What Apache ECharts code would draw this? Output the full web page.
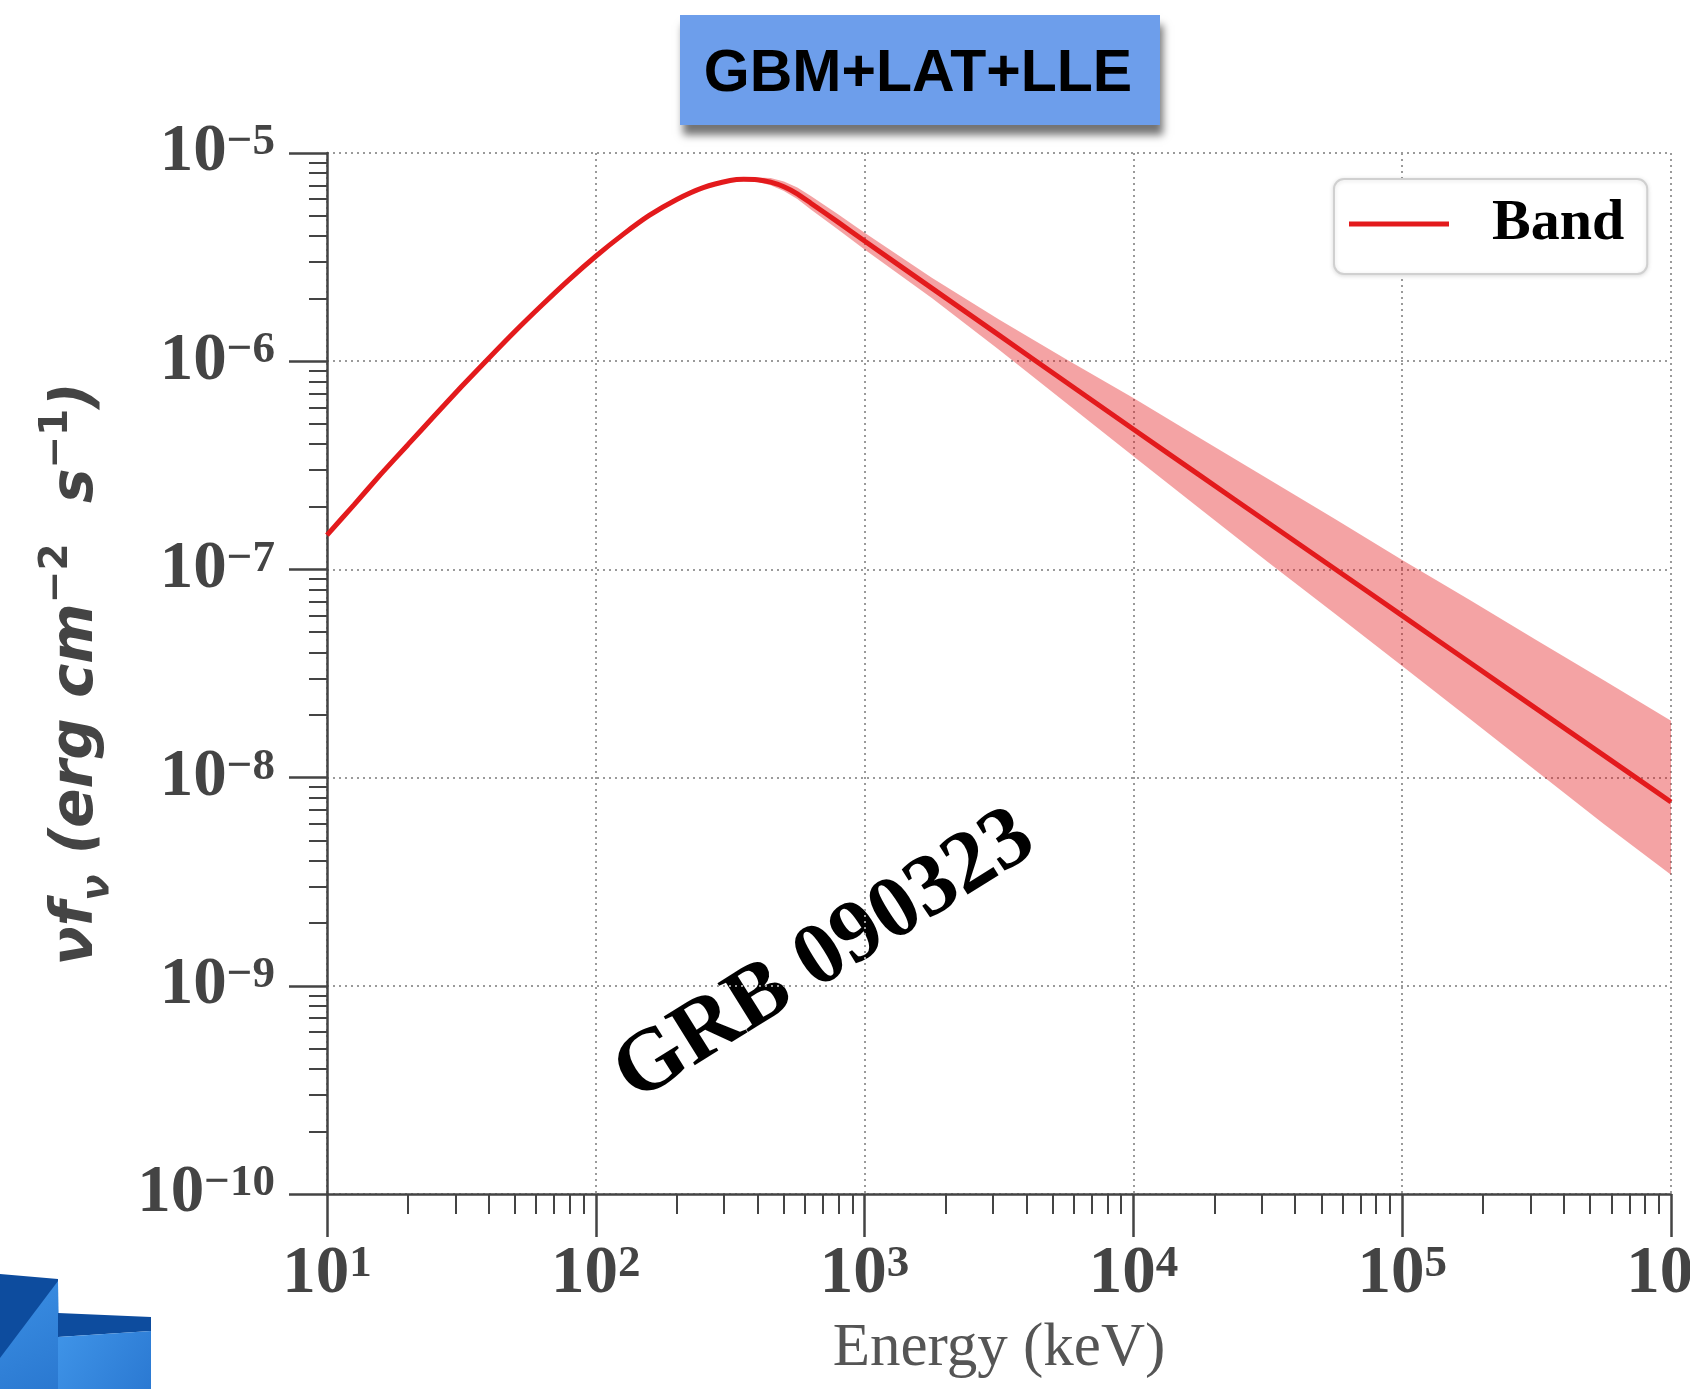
<!DOCTYPE html>
<html><head><meta charset="utf-8">
<script src="https://cdn.jsdelivr.net/npm/echarts@6/dist/echarts.min.js"></script>
<style>html,body{margin:0;padding:0;background:#fff}#c{width:1690px;height:1389px}</style>
</head><body><div id="c"></div>
<script>
// ---- data ----
const curveE = [10, 12.6, 15.8, 20, 25.1, 31.6, 39.8, 50.1, 63.1, 79.4, 100, 126, 158, 200, 251, 316, 355, 398, 447, 501, 562, 631, 794, 1000, 1778, 3162, 5623, 10000, 17783, 31623, 56234, 100000, 177828, 316228, 562341, 1000000];
const curveF = [1.462e-7, 2.042e-7, 2.851e-7, 3.972e-7, 5.470e-7, 7.534e-7, 1.028e-6, 1.393e-6, 1.862e-6, 2.460e-6, 3.192e-6, 4.055e-6, 5.012e-6, 5.984e-6, 6.823e-6, 7.379e-6, 7.482e-6, 7.447e-6, 7.244e-6, 6.887e-6, 6.368e-6, 5.741e-6, 4.667e-6, 3.776e-6, 2.244e-6, 1.334e-6, 7.925e-7, 4.710e-7, 2.812e-7, 1.679e-7, 1.005e-7, 5.998e-8, 3.581e-8, 2.138e-8, 1.279e-8, 7.638e-9];
const bandE  = [316, 355, 398, 447, 501, 562, 631, 794, 1000, 1778, 3162, 5623, 10000, 17783, 31623, 56234, 100000, 177828, 316228, 562341, 1000000];
const bandHi = [7.379e-6, 7.568e-6, 7.621e-6, 7.586e-6, 7.295e-6, 6.823e-6, 6.223e-6, 5.093e-6, 4.140e-6, 2.518e-6, 1.585e-6, 1.021e-6, 6.653e-7, 4.256e-7, 2.723e-7, 1.746e-7, 1.109e-7, 7.145e-8, 4.571e-8, 2.931e-8, 1.875e-8];
const bandLo = [7.379e-6, 7.396e-6, 7.278e-6, 6.998e-6, 6.577e-6, 6.012e-6, 5.358e-6, 4.305e-6, 3.443e-6, 2.009e-6, 1.135e-6, 6.295e-7, 3.491e-7, 1.945e-7, 1.084e-7, 6.124e-8, 3.436e-8, 1.923e-8, 1.072e-8, 5.984e-9, 3.412e-9];
const xTickValues = [10, 100, 1000, 10000, 100000, 1000000];
const xTickExp = ['1', '2', '3', '4', '5', '6'];
const yTickValues = [1e-10, 1e-9, 1e-8, 1e-7, 1e-6, 1e-5];
const yTickExp = ['\u221210', '\u22129', '\u22128', '\u22127', '\u22126', '\u22125'];
const seriesName = 'Band';
const titleText = 'GBM+LAT+LLE';
const annotText = 'GRB 090323';
const xName = 'Energy (keV)';

// minor tick positions (2..9 per decade)
const xMinor = [];
for (let d = 1; d < 6; d++) for (let k = 2; k <= 9; k++) xMinor.push(k * Math.pow(10, d));
const yMinor = [];
for (let d = -10; d < -5; d++) for (let k = 2; k <= 9; k++) yMinor.push(k * Math.pow(10, d));

function nearestIdx(vals, v) {
  let best = 0, bd = Infinity;
  vals.forEach((t, i) => { const dd = Math.abs(Math.log10(t) - Math.log10(v)); if (dd < bd) { bd = dd; best = i; } });
  return best;
}
const tickRich = {
  b: { fontFamily: 'Liberation Serif', fontWeight: 'bold', fontSize: 67, color: '#444', lineHeight: 66 },
  s: { fontFamily: 'Liberation Serif', fontWeight: 'bold', fontSize: 45, color: '#444', lineHeight: 42, verticalAlign: 'top' }
};
const gridLine = { show: true, lineStyle: { color: '#9a9a9a', width: 2, type: [2, 4] } };

const chart = echarts.init(document.getElementById('c'), null, { renderer: 'canvas' });
const option = {
  animation: false,
  backgroundColor: '#ffffff',
  grid: { left: 327, right: 19, top: 153, bottom: 195, containLabel: false, outerBoundsMode: 'none' },
  xAxis: [{
    type: 'log', logBase: 10, min: 10, max: 1e6, position: 'bottom',
    name: xName, nameLocation: 'middle', nameGap: 124,
    nameTextStyle: { fontFamily: 'Liberation Serif', fontSize: 61, color: '#555' },
    axisLine: { show: true, onZero: false, lineStyle: { color: '#444', width: 2.5 } },
    axisTick: { show: true, inside: false, length: 43, lineStyle: { color: '#444', width: 2.5 } },
    axisLabel: { margin: 48, showMinLabel: true, showMaxLabel: true, rich: tickRich,
      formatter: v => '{b|10}{s|' + xTickExp[nearestIdx(xTickValues, v)] + '}' },
    splitLine: gridLine
  }, {
    type: 'log', logBase: 10, min: 10, max: 1e6, position: 'bottom', gridIndex: 0,
    axisLine: { show: false }, axisLabel: { show: false }, splitLine: { show: false },
    axisTick: { show: true, inside: false, customValues: xMinor, length: 20, lineStyle: { color: '#444', width: 2 } }
  }],
  yAxis: [{
    type: 'log', logBase: 10, min: 1e-10, max: 1e-5, position: 'left',
    axisLine: { show: true, onZero: false, lineStyle: { color: '#444', width: 2.5 } },
    axisTick: { show: true, inside: false, length: 38, lineStyle: { color: '#444', width: 2.5 } },
    axisLabel: { margin: 52, showMinLabel: true, showMaxLabel: true, rich: tickRich,
      formatter: v => '{b|10}{s|' + yTickExp[nearestIdx(yTickValues, v)] + '}' },
    splitLine: gridLine
  }, {
    type: 'log', logBase: 10, min: 1e-10, max: 1e-5, position: 'left', gridIndex: 0,
    axisLine: { show: false }, axisLabel: { show: false }, splitLine: { show: false },
    axisTick: { show: true, inside: false, customValues: yMinor, length: 18, lineStyle: { color: '#444', width: 2 } }
  }],
  legend: {
    data: [seriesName], left: 1334, top: 179, orient: 'horizontal',
    icon: 'rect', itemWidth: 100, itemHeight: 5,
    padding: [16, 23, 21, 15],
    backgroundColor: '#fff', borderColor: '#d0d0d0', borderWidth: 2, borderRadius: 10,
    shadowBlur: 4, shadowColor: 'rgba(0,0,0,0.12)', shadowOffsetY: 1,
    formatter: '{t|{name}}',
    textStyle: { rich: { t: { fontFamily: 'Liberation Serif', fontWeight: 'bold', fontSize: 58, color: '#000', lineHeight: 58, padding: [0, 0, 0, 38] } } }
  },
  series: [{
    type: 'custom', name: 'ci', xAxisIndex: 0, yAxisIndex: 0, silent: true, z: 1,
    data: bandE.map((e, i) => [e, bandLo[i], bandHi[i]]),
    encode: { x: 0, y: [1, 2] },
    renderItem: function (params, api) {
      if (params.dataIndex !== 0) return null;
      const pts = [];
      for (let i = 0; i < bandE.length; i++) pts.push(api.coord([bandE[i], bandHi[i]]));
      for (let i = bandE.length - 1; i >= 0; i--) pts.push(api.coord([bandE[i], bandLo[i]]));
      return { type: 'polygon', shape: { points: pts }, style: { fill: 'rgba(227,26,28,0.4)' } };
    }
  }, {
    type: 'line', name: seriesName, xAxisIndex: 0, yAxisIndex: 0, z: 3,
    data: curveE.map((e, i) => [e, curveF[i]]),
    symbol: 'none', smooth: 0.2,
    lineStyle: { color: '#e31a1c', width: 5 },
    itemStyle: { color: '#e31a1c' }
  }],
  graphic: [
    { type: 'rect', shape: { x: 680, y: 15, width: 480, height: 110 },
      style: { fill: '#6d9eeb', shadowBlur: 8, shadowOffsetX: 3, shadowOffsetY: 10, shadowColor: 'rgba(0,0,0,0.55)' } },
    { type: 'text', x: 918, y: 75,
      style: { text: titleText, fontFamily: 'Liberation Sans', fontWeight: 'bold', fontSize: 59, fill: '#000', align: 'center', verticalAlign: 'middle' } },
    { type: 'text', x: 77, y: 674, rotation: Math.PI / 2,
      style: {
        text: '{m|\u03BDf}{sb|\u03BD}{m| (erg cm}{sp|\u22122}{m|  s}{sp|\u22121}{m|)}',
        align: 'center', verticalAlign: 'middle',
        rich: {
          m: { fontFamily: 'DejaVu Sans', fontWeight: 'bold', fontStyle: 'italic', fontSize: 58, fill: '#444', color: '#444', lineHeight: 80 },
          sb: { fontFamily: 'DejaVu Sans', fontWeight: 'bold', fontStyle: 'italic', fontSize: 39, fill: '#444', color: '#444', lineHeight: 50, verticalAlign: 'bottom' },
          sp: { fontFamily: 'DejaVu Sans', fontWeight: 'bold', fontSize: 39, fill: '#444', color: '#444', lineHeight: 40, verticalAlign: 'top' }
        }
      } },
    { type: 'text', x: 825, y: 957, rotation: 32 * Math.PI / 180,
      style: { text: annotText, fontFamily: 'Liberation Serif', fontWeight: 'bold', fontSize: 88, fill: '#000', align: 'center', verticalAlign: 'middle' } },
    // decorative logo fragment, bottom-left
    { type: 'polygon', shape: { points: [[0, 1274], [58, 1279], [58, 1389], [0, 1389]] }, style: { fill: '#0d4c9e' } },
    { type: 'polygon', shape: { points: [[58, 1281], [60, 1389], [0, 1389], [0, 1358]] },
      style: { fill: new echarts.graphic.LinearGradient(0, 0, 1, 1, [{ offset: 0, color: '#3b8fe4' }, { offset: 1, color: '#2a78d0' }]) } },
    { type: 'polygon', shape: { points: [[58, 1313], [151, 1317], [151, 1331], [58, 1337]] }, style: { fill: '#0d4c9e' } },
    { type: 'polygon', shape: { points: [[58, 1337], [151, 1331], [151, 1389], [58, 1389]] },
      style: { fill: new echarts.graphic.LinearGradient(0, 0, 1, 1, [{ offset: 0, color: '#3f94e8' }, { offset: 1, color: '#2b79d2' }]) } }
  ]
};
chart.setOption(option);
</script>
</body></html>
